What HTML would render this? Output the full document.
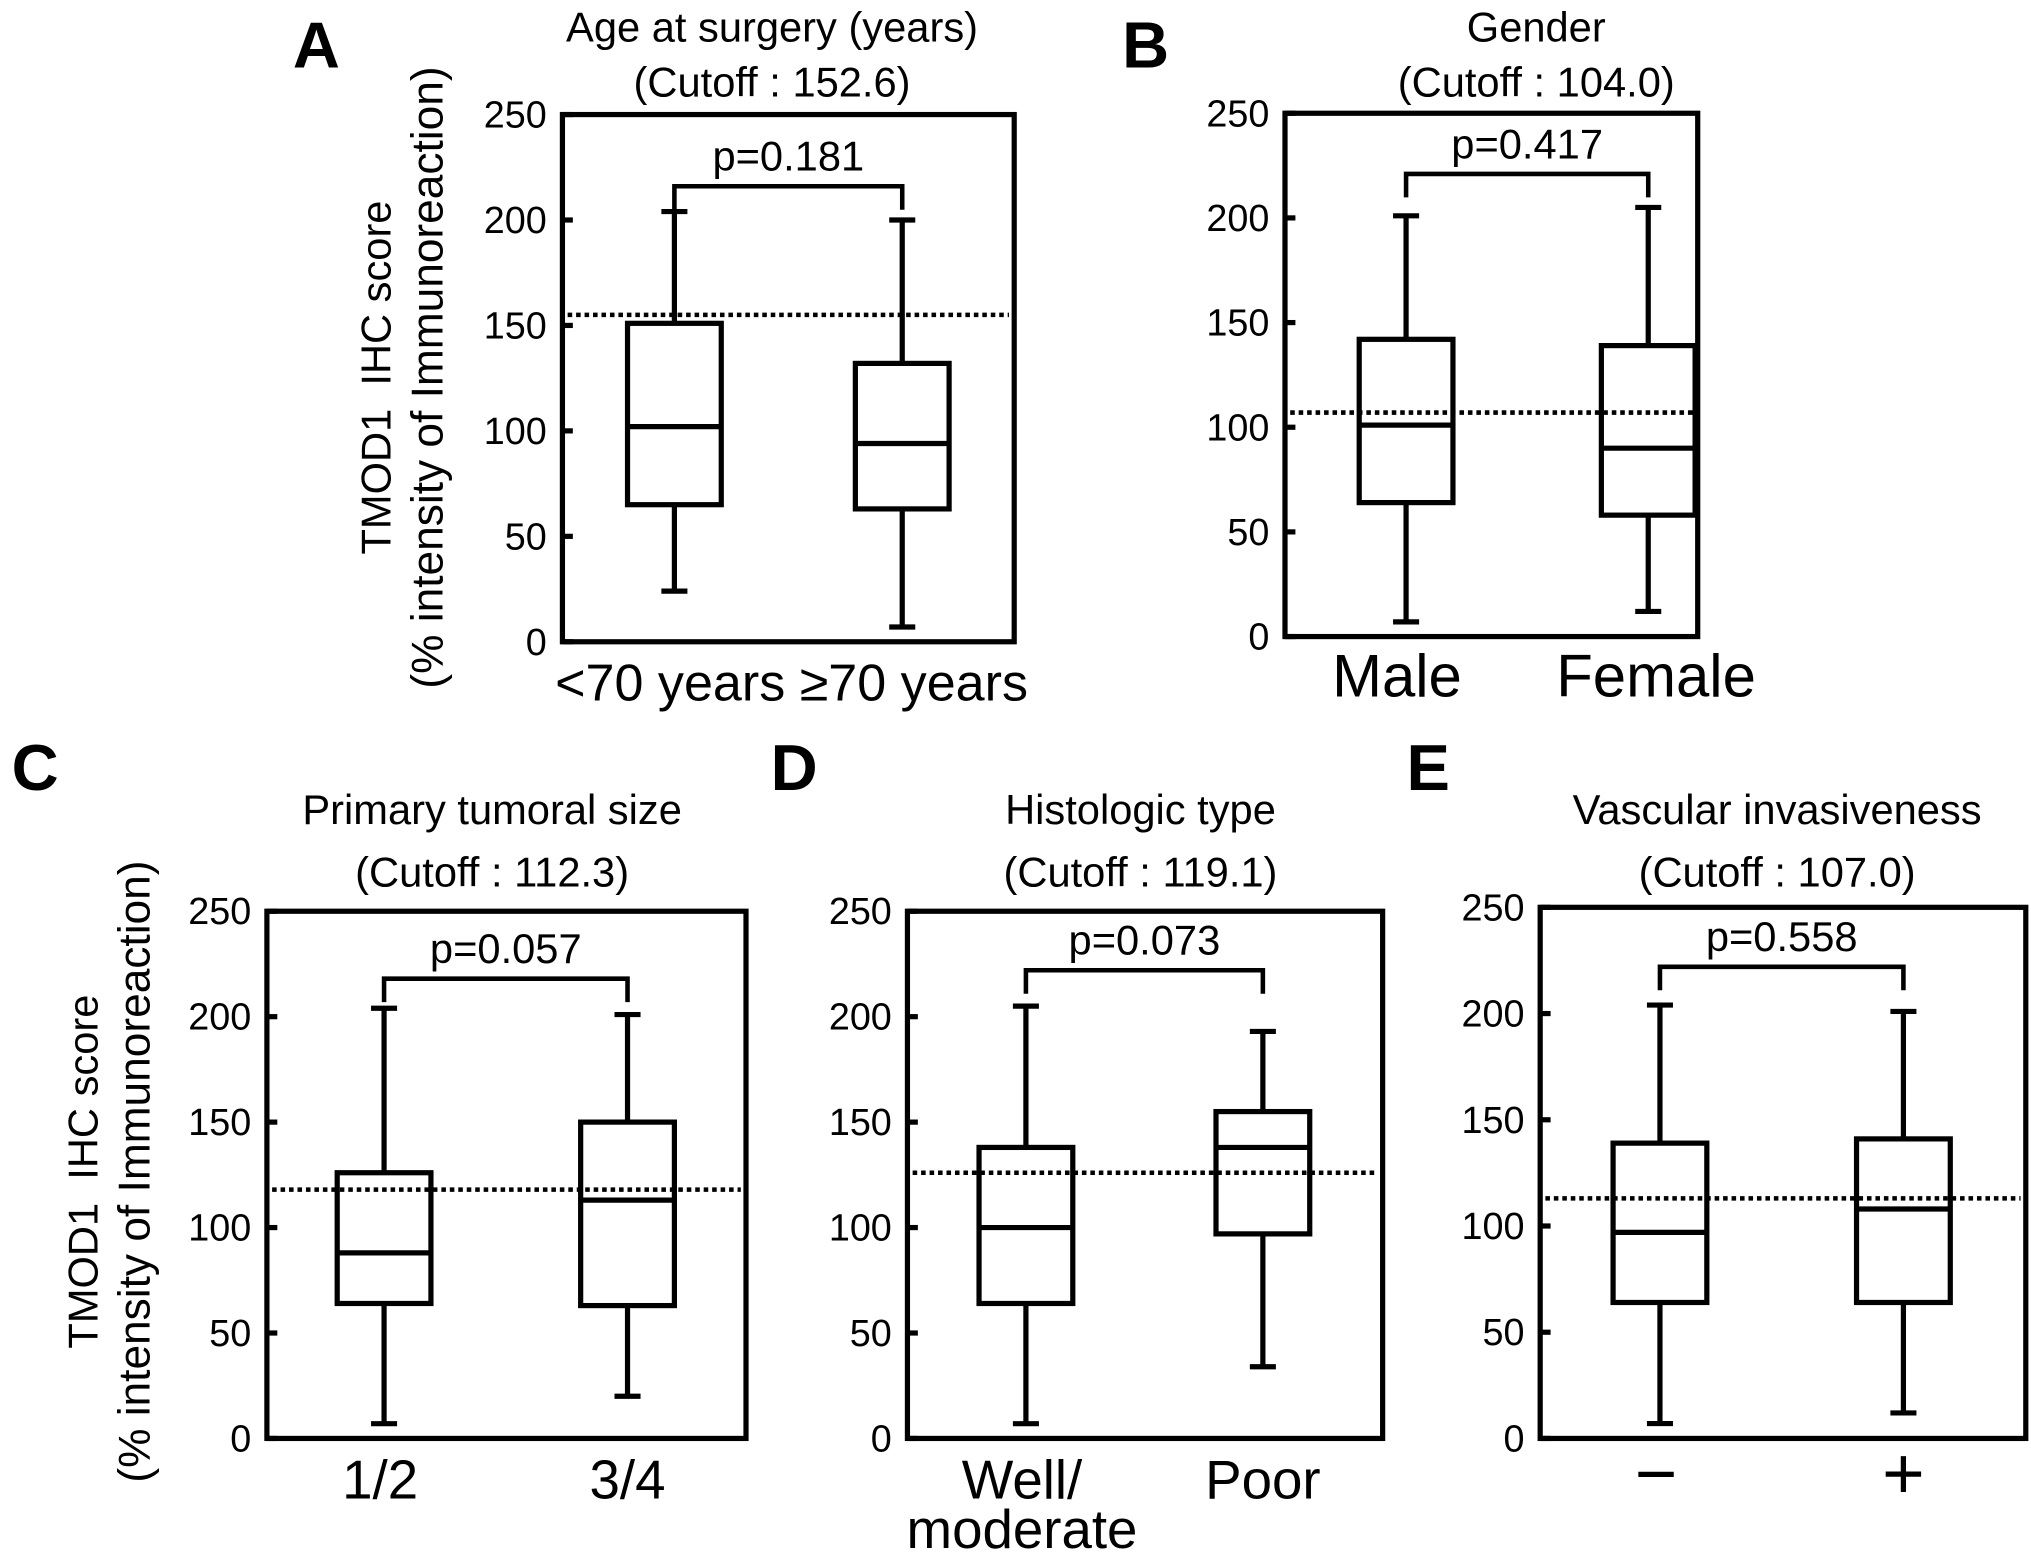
<!DOCTYPE html>
<html><head><meta charset="utf-8"><style>
html,body{margin:0;padding:0;background:#fff;}
svg{display:block;font-family:"Liberation Sans",Arial,sans-serif;}
</style></head><body>
<svg id="fig" width="2031" height="1553" viewBox="0 0 1560 1193" preserveAspectRatio="none" xmlns="http://www.w3.org/2000/svg"></svg>
<script>
const panelTitles = ["Age at surgery (years)","Gender","Primary tumoral size","Histologic type","Vascular invasiveness"];
const cutoffLabels = ["(Cutoff : 152.6)","(Cutoff : 104.0)","(Cutoff : 112.3)","(Cutoff : 119.1)","(Cutoff : 107.0)"];
const pValues = ["p=0.181","p=0.417","p=0.057","p=0.073","p=0.558"];
const categories = [["<70 years","≥70 years"],["Male","Female"],["1/2","3/4"],["Well/\nmoderate","Poor"],["−","+"]];
const whiskerLow = [[24,7],[7,12],[7,20],[7,34],[7,12]];
const q1Values = [[65,63],[64,58],[64,63],[64,97],[64,64]];
const medians = [[102,94],[101,90],[88,113],[100,138],[97,108]];
const q3Values = [[151,132],[142,139],[126,150],[138,155],[139,141]];
const whiskerHigh = [[204,200],[201,205],[204,201],[205,193],[204,201]];
const cutoffLines = [155,107,118,126,113];
const bracketLevels = [216,221,218,222,222];
const yTicks = [0,50,100,150,200,250];
const yMax = 250;

const layout = [
 {x0:432,x1:779,y0:88,y1:493,letter:"A",lx:243,ly:52,tcx:593,ty1:32,ty2:74,xlabelY:538,xfs:40,single:true,cx:608,bc:[518,693],lc:[518,693],ylab:[290,330],ylabY:290},
 {x0:987,x1:1304,y0:87,y1:489,letter:"B",lx:880,ly:52,tcx:1180,ty1:32,ty2:74,xlabelY:535,xfs:46,bc:[1080,1266],lc:[1073,1272]},
 {x0:205,x1:573,y0:700,y1:1105,letter:"C",lx:27,ly:607,tcx:378,ty1:633,ty2:681,xlabelY:1151,xfs:42,bc:[295,482],lc:[292,482],ylab:[65,105],ylabY:900},
 {x0:697,x1:1062,y0:700,y1:1105,letter:"D",lx:610,ly:607,tcx:876,ty1:633,ty2:681,xlabelY:1151,xfs:42,bc:[788,970],lc:[785,970]},
 {x0:1183,x1:1556,y0:697,y1:1105,letter:"E",lx:1097,ly:607,tcx:1365,ty1:633,ty2:681,xlabelY:1151,xfs:42,bc:[1275,1462],lc:[1272,1462]}
];
const NS="http://www.w3.org/2000/svg";
const svg=document.getElementById('fig');
function mk(tag,attrs,parent){const e=document.createElementNS(NS,tag);for(const k in attrs)e.setAttribute(k,attrs[k]);(parent||svg).appendChild(e);return e;}

layout.forEach((L,p)=>{
  const g=mk('g',{});
  
  
  const ys=v=>L.y1-(v/yMax)*(L.y1-L.y0);
  const bw=72;
  let t=mk('text',{x:L.lx,y:L.ly,'font-size':50,'font-weight':'bold','text-anchor':'middle'},g);t.textContent=L.letter;
  
  t=mk('text',{x:L.tcx,y:L.ty1,'font-size':32,'text-anchor':'middle'},g);t.textContent=panelTitles[p];
  
  t=mk('text',{x:L.tcx,y:L.ty2,'font-size':32,'text-anchor':'middle'},g);t.textContent=cutoffLabels[p];
  
  let r=mk('rect',{x:L.x0,y:L.y0,width:L.x1-L.x0,height:L.y1-L.y0,fill:'none',stroke:'#000','stroke-width':4},g);
  
  yTicks.forEach(v=>{
    const y=ys(v);
    let l=mk('line',{x1:L.x0,x2:L.x0+8,y1:y,y2:y,stroke:'#000','stroke-width':4},g);
    
    let tt=mk('text',{x:L.x0-12,y:y+10,'font-size':29,'text-anchor':'end'},g);tt.textContent=v;
    
  });
  if(L.ylab){
    const lines=["TMOD1\u00a0\u00a0IHC score","(% intensity of Immunoreaction)"];
    const fs=[32,34];
    lines.forEach((s,i)=>{
      let yt=mk('text',{x:0,y:0,'font-size':fs[i],'text-anchor':'middle',transform:`translate(${L.ylab[i]+10},${L.ylabY}) rotate(-90)`},g);
      yt.textContent=s;
      
    });
  }
  let cl=mk('line',{x1:L.x0+4,x2:L.x1-4,y1:ys(cutoffLines[p]),y2:ys(cutoffLines[p]),stroke:'#000','stroke-width':3.5,'stroke-dasharray':'3.5,3'},g);
  
  [0,1].forEach(i=>{
    const cx=L.bc[i];
    const bg=mk('g',{stroke:'#000','stroke-width':4,fill:'none'},g);
    
    mk('line',{x1:cx,x2:cx,y1:ys(whiskerLow[p][i]),y2:ys(q1Values[p][i])},bg);
    mk('line',{x1:cx,x2:cx,y1:ys(q3Values[p][i]),y2:ys(whiskerHigh[p][i])},bg);
    mk('line',{x1:cx-10,x2:cx+10,y1:ys(whiskerLow[p][i]),y2:ys(whiskerLow[p][i])},bg);
    mk('line',{x1:cx-10,x2:cx+10,y1:ys(whiskerHigh[p][i]),y2:ys(whiskerHigh[p][i])},bg);
    mk('rect',{x:cx-bw/2,y:ys(q3Values[p][i]),width:bw,height:ys(q1Values[p][i])-ys(q3Values[p][i])},bg);
    mk('line',{x1:cx-bw/2,x2:cx+bw/2,y1:ys(medians[p][i]),y2:ys(medians[p][i])},bg);
    if(!L.single){
      const parts=categories[p][i].split('\n');
      parts.forEach((s,k)=>{
        let xl=mk('text',{x:L.lc[i],y:L.xlabelY+k*38,'font-size':(s==='−'||s==='+')?56:L.xfs,'text-anchor':'middle'},g);
        xl.textContent=s;
        
      });
    }
  });
  if(L.single){
    let xl=mk('text',{x:L.cx,y:L.xlabelY,'font-size':L.xfs,'text-anchor':'middle'},g);
    xl.textContent=categories[p][0]+' '+categories[p][1];
    
  }
  const bx1=L.bc[0],bx2=L.bc[1],by=ys(bracketLevels[p]);
  let br=mk('polyline',{points:`${bx1},${by+18} ${bx1},${by} ${bx2},${by} ${bx2},${by+18}`,fill:'none',stroke:'#000','stroke-width':3.5},g);
  
  let pv=mk('text',{x:(bx1+bx2)/2,y:by-12,'font-size':32,'text-anchor':'middle'},g);pv.textContent=pValues[p];
  
});
</script>
</body></html>
